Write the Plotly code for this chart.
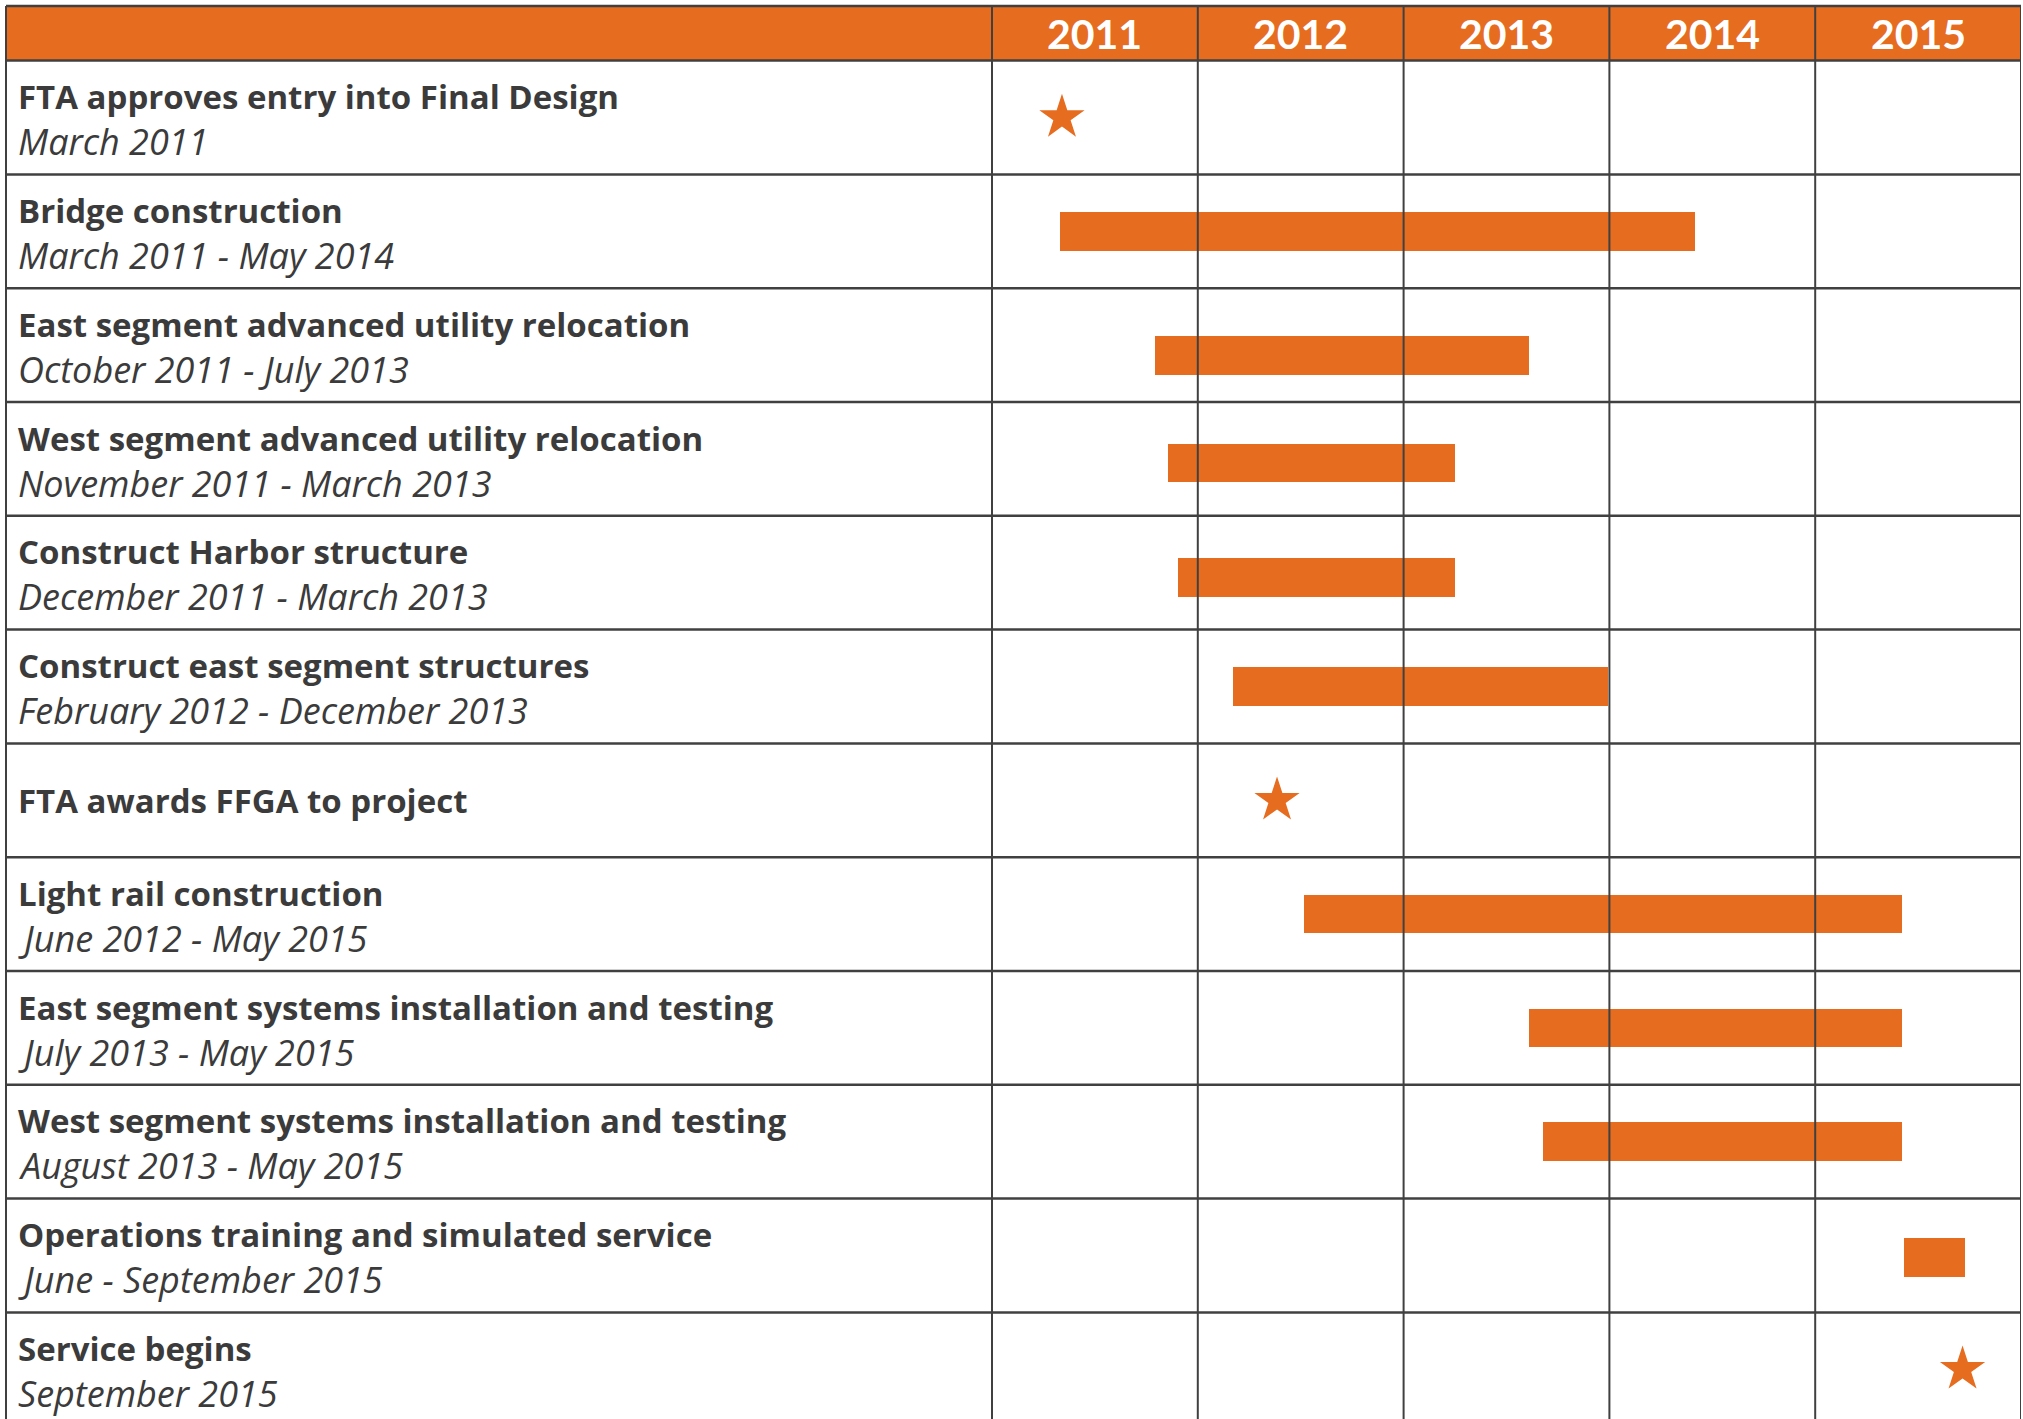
import plotly.graph_objects as go

# ---------------- data ----------------
tasks = [
    "FTA approves entry into Final Design",
    "Bridge construction",
    "East segment advanced utility relocation",
    "West segment advanced utility relocation",
    "Construct Harbor structure",
    "Construct east segment structures",
    "FTA awards FFGA to project",
    "Light rail construction",
    "East segment systems installation and testing",
    "West segment systems installation and testing",
    "Operations training and simulated service",
    "Service begins",
]
date_labels = [
    "March 2011",
    "March 2011 - May 2014",
    "October 2011 - July 2013",
    "November 2011 - March 2013",
    "December 2011 - March 2013",
    "February 2012 - December 2013",
    "",
    "June 2012 - May 2015",
    "July 2013 - May 2015",
    "August 2013 - May 2015",
    "June - September 2015",
    "September 2015",
]
# positions, in fractional years
bar_start = [None, 2011.33, 2011.79, 2011.853, 2011.903, 2012.173, None,
             2012.518, 2013.61, 2013.679, 2015.433, None]
bar_end = [None, 2014.416, 2013.61, 2013.252, 2013.252, 2013.992, None,
           2015.42, 2015.42, 2015.42, 2015.726, None]
milestone = [2011.34, None, None, None, None, None, 2012.385,
             None, None, None, None, 2015.716]
years = [2011, 2012, 2013, 2014, 2015]

# ---------------- style ----------------
W, H = 2023, 1419
ORANGE = "#E66C1F"
TEXT = "#3b3b3b"
LINE = "#404040"
LABEL_FONT = "Open Sans"
X_LEFT_PX, X_SPLIT_PX, X_RIGHT_PX = 6, 992, 2021
HEADER_TOP_PX, HEADER_BOT_PX, ROW_H = 6, 60.6, 113.8
# small vertical nudges of some bars inside their row (row units)
BAR_NUDGE = {2: 0.09, 3: 0.035, 4: 0.04, 10: 0.02}

def py(px):  # pixel -> row units
    return (px - HEADER_BOT_PX) / ROW_H

y_top = py(0)
y_bot = py(H)
header_top = py(HEADER_TOP_PX)

fig = go.Figure()

# bars
bx, bbase, by = [], [], []
for i, (s, e) in enumerate(zip(bar_start, bar_end)):
    if s is not None:
        bbase.append(s)
        bx.append(e - s)
        by.append(i + 0.5 + BAR_NUDGE.get(i, 0))
fig.add_trace(go.Bar(
    orientation="h", base=bbase, x=bx, y=by, width=0.34,
    marker=dict(color=ORANGE, line=dict(width=0)),
    hoverinfo="skip", showlegend=False,
))

# milestones
mx = [m for m in milestone if m is not None]
my = [i + 0.5 for i, m in enumerate(milestone) if m is not None]
fig.add_trace(go.Scatter(
    x=mx, y=my, mode="markers",
    marker=dict(symbol="star", size=34, color=ORANGE, line=dict(width=0)),
    hoverinfo="skip", showlegend=False, cliponaxis=False,
))

shapes = []
xl = X_LEFT_PX / W
xs = X_SPLIT_PX / W
xr = X_RIGHT_PX / W
# header background
shapes.append(dict(type="rect", xref="paper", yref="y", x0=xl, x1=xr,
                   y0=header_top, y1=0, fillcolor=ORANGE,
                   line=dict(width=0), layer="below"))
# horizontal lines
for k in range(0, len(tasks) + 1):
    shapes.append(dict(type="line", xref="paper", yref="y", x0=xl, x1=xr,
                       y0=k, y1=k, line=dict(color=LINE, width=2.5),
                       layer="above"))
shapes.append(dict(type="line", xref="paper", yref="y", x0=xl, x1=xr,
                   y0=header_top, y1=header_top,
                   line=dict(color=LINE, width=2.5), layer="above"))
# vertical lines
for xp in (xl, xs):
    shapes.append(dict(type="line", xref="paper", yref="y", x0=xp, x1=xp,
                       y0=header_top, y1=y_bot + 1,
                       line=dict(color=LINE, width=2), layer="above"))
for yr in years + [years[-1] + 1]:
    shapes.append(dict(type="line", xref="x", yref="y", x0=yr, x1=yr,
                       y0=header_top, y1=y_bot + 1,
                       line=dict(color=LINE, width=2), layer="above"))

annotations = []
for yr in years:
    annotations.append(dict(
        x=yr + 0.5, y=header_top / 2, xref="x", yref="y", text=f"<b>{yr}</b>",
        showarrow=False, xanchor="center", yanchor="middle",
        font=dict(family="Lato", size=41, color="white")))

tx = 16 / W
for i, (t, d) in enumerate(zip(tasks, date_labels)):
    if d:
        annotations.append(dict(
            x=tx, y=i + 36 / ROW_H, xref="paper", yref="y", text=f"<b>{t}</b>",
            showarrow=False, xanchor="left", yanchor="middle",
            font=dict(family=LABEL_FONT, size=33, color=TEXT)))
        annotations.append(dict(
            x=tx, y=i + 81 / ROW_H, xref="paper", yref="y", text=f"<i>{d}</i>",
            showarrow=False, xanchor="left", yanchor="middle",
            font=dict(family=LABEL_FONT, size=36, color=TEXT)))
    else:
        annotations.append(dict(
            x=tx, y=i + 0.5, xref="paper", yref="y", text=f"<b>{t}</b>",
            showarrow=False, xanchor="left", yanchor="middle",
            font=dict(family=LABEL_FONT, size=33, color=TEXT)))

fig.update_layout(
    width=W, height=H,
    margin=dict(l=0, r=0, t=0, b=0),
    paper_bgcolor="white", plot_bgcolor="white",
    xaxis=dict(domain=[xs, xr], range=[years[0], years[-1] + 1],
               showgrid=False, zeroline=False, showticklabels=False,
               fixedrange=True),
    yaxis=dict(domain=[0, 1], range=[y_bot, y_top], showgrid=False,
               zeroline=False, showticklabels=False, fixedrange=True),
    shapes=shapes, annotations=annotations,
    bargap=0, showlegend=False,
)

fig.write_html(
    "out.html",
    config={"displayModeBar": False},
    post_script="document.body.style.margin='0';document.body.style.overflow='hidden';",
)
